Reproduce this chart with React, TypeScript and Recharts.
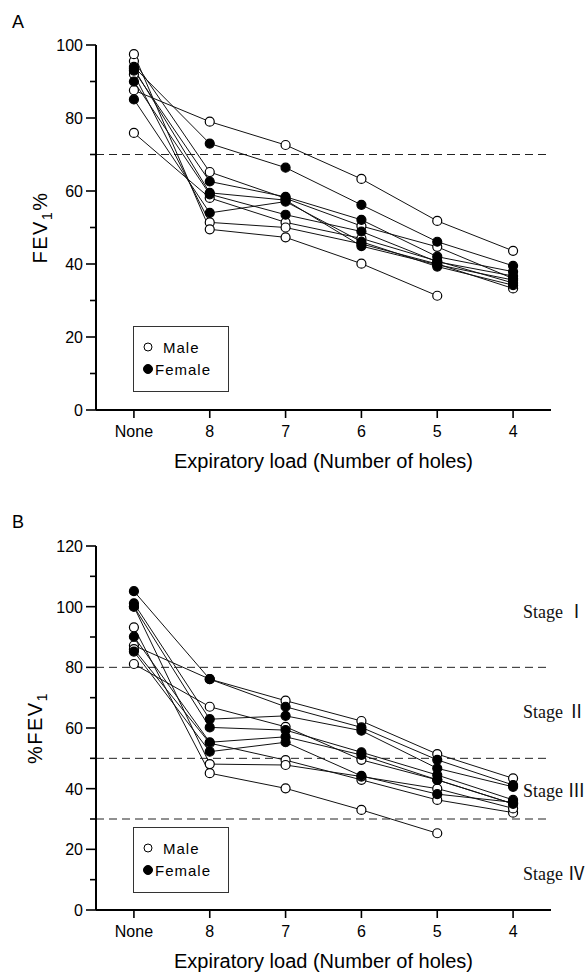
import React from 'react';
import { LineChart, Line, XAxis, YAxis, ReferenceLine, Legend } from 'recharts';

const CATEGORIES = ['None', '8', '7', '6', '5', '4'];

// Panel A, FEV1% per subject (None -> 4 holes)
const A_MALE = [
  [87.6, 79, 72.6, 63.3, 51.8, 43.6],
  [95.6, 65.2, 58, 50.4, 44.7, 36],
  [75.9, 58.1, 51.4, 47, 40.8, 34.8],
  [92, 51.4, 50, 45.5, 40, 33.3],
  [97.5, 49.5, 47.3, 40.1, 31.3, null],
];
const A_FEMALE = [
  [94, 73, 66.4, 56.2, 46.1, 39.5],
  [93, 62.6, 58.4, 52.1, 42, 37.9],
  [90, 59.1, 53.5, 48.9, 40.6, 36.7],
  [85.1, 54, 57.1, 46.1, 39.3, 34.2],
  [93.5, 59.5, 57.5, 44.9, 39.8, 35.6],
];
const A_CUTOFFS = [70];

// Panel B, %FEV1 per subject
const B_MALE = [
  [87.2, 76.1, 69, 62.3, 51.4, 43.4],
  [81.1, 67, 60.4, 49.5, 42.9, 35],
  [86, 55, 49.4, 42.9, 36.3, 32.1],
  [100, 48.1, 47.8, 44, 40, 33.5],
  [93.2, 45.1, 40.1, 33, 25.3, null],
];
const B_FEMALE = [
  [105.1, 76.1, 67, 60.2, 49.5, 41.2],
  [101.1, 62.9, 64, 59.1, 46.7, 40.6],
  [100, 60.2, 59.3, 52, 44.5, 36.3],
  [90.1, 55.3, 57.1, 51.1, 42.9, 35],
  [85.2, 52.2, 55.3, 44.2, 38.2, 35.5],
];
const B_CUTOFFS = [80, 50, 30];
const STAGE_NAMES = ['Stage Ⅰ', 'Stage Ⅱ', 'Stage Ⅲ', 'Stage Ⅳ'];
const STAGE_LEVELS = [98, 65, 39, 11.5];

const SANS = '"Liberation Sans", Arial, sans-serif';

function buildRows(male: (number | null)[][], female: (number | null)[][]) {
  return CATEGORIES.map((label, i) => {
    const row: Record<string, number | string | null> = { x: i, label };
    male.forEach((s, k) => (row[`m${k}`] = s[i]));
    female.forEach((s, k) => (row[`f${k}`] = s[i]));
    return row;
  });
}

function YTick(props: any) {
  const { x, y, payload } = props;
  const v = payload.value as number;
  const major = v % 20 === 0;
  return (
    <g>
      <line x1={x - (major ? 10 : 6)} x2={x} y1={y} y2={y} stroke="#000" strokeWidth={1.6} />
      {major && (
        <text x={x - 13} y={y} dy={6} textAnchor="end" fontSize={16} fill="#000" fontFamily={SANS}>
          {v}
        </text>
      )}
    </g>
  );
}

function YTitle(props: any) {
  const { viewBox, pre, sub, post, cxOff } = props;
  const cx = viewBox.x + cxOff;
  const cy = viewBox.y + viewBox.height / 2;
  return (
    <text
      x={cx}
      y={cy}
      transform={`rotate(-90, ${cx}, ${cy})`}
      textAnchor="middle"
      fontSize={20}
      fill="#000"
      fontFamily={SANS}
      letterSpacing={1.5}
      dy={7}
    >
      {pre}
      <tspan fontSize={14} dy={5}>{sub}</tspan>
      <tspan dy={-5}>{post}</tspan>
    </text>
  );
}

function StageLabel(props: any) {
  const { viewBox, text } = props;
  return (
    <text
      x={viewBox.x + viewBox.width - 28}
      y={viewBox.y}
      dy={5}
      fontSize={18}
      fill="#111"
      fontFamily='"Liberation Serif", "Noto Sans CJK JP", serif'
    >
      {text}
    </text>
  );
}

function SexLegend() {
  const dot = (filled: boolean) => (
    <svg width={12} height={12} style={{ display: 'block' }}>
      <circle cx={6} cy={6} r={filled ? 4.5 : 4} fill={filled ? '#000' : '#fff'} stroke="#000" strokeWidth={1} />
    </svg>
  );
  return (
    <div
      style={{
        width: 96,
        height: 66,
        boxSizing: 'border-box',
        border: '1px solid #333',
        background: '#fff',
        fontFamily: SANS,
        fontSize: 15,
        letterSpacing: 1,
        color: '#000',
        padding: '9px 0 0 8px',
      }}
    >
      <div style={{ display: 'flex', alignItems: 'center', height: 22 }}>
        {dot(false)}
        <span style={{ marginLeft: 9 }}>Male</span>
      </div>
      <div style={{ display: 'flex', alignItems: 'center', height: 22 }}>
        {dot(true)}
        <span style={{ marginLeft: 1 }}>Female</span>
      </div>
    </div>
  );
}

function Panel(props: {
  male: (number | null)[][];
  female: (number | null)[][];
  yMax: number;
  cutoffs: number[];
  top: number;
  bottom: number;
  title: { pre: string; sub: string; post: string; cxOff: number };
  legendTop: number;
  stages?: boolean;
}) {
  const { male, female, yMax, cutoffs, top, bottom, title, legendTop, stages } = props;
  const rows = buildRows(male, female);
  const yTicks: number[] = [];
  for (let v = 0; v <= yMax; v += 10) yTicks.push(v);

  return (
    <LineChart width={588} height={488} data={rows} margin={{ top, right: 37, left: 0, bottom }}>
      <XAxis
        type="number"
        dataKey="x"
        domain={[-0.5, 5.5]}
        ticks={[0, 1, 2, 3, 4, 5]}
        tickFormatter={(v: number) => CATEGORIES[v]}
        height={30}
        tickSize={8}
        tickMargin={8}
        axisLine={{ stroke: '#000', strokeWidth: 2 }}
        tickLine={{ stroke: '#000', strokeWidth: 1.6 }}
        tick={{ fill: '#000', fontSize: 16, fontFamily: SANS }}
        label={{
          value: 'Expiratory load (Number of holes)',
          position: 'bottom',
          offset: 14,
          fontSize: 20,
          fill: '#000',
          fontFamily: SANS,
        }}
      />
      <YAxis
        type="number"
        domain={[0, yMax]}
        ticks={yTicks}
        interval={0}
        width={96}
        tickSize={0}
        tickMargin={0}
        tickLine={false}
        axisLine={{ stroke: '#000', strokeWidth: 2 }}
        tick={<YTick />}
        label={<YTitle {...title} />}
      />
      {cutoffs.map(c => (
        <ReferenceLine key={c} y={c} stroke="#222" strokeWidth={1} strokeDasharray="8 5" />
      ))}
      {stages &&
        STAGE_NAMES.map((s, i) => (
          <ReferenceLine key={s} y={STAGE_LEVELS[i]} stroke="none" label={<StageLabel text={s} />} />
        ))}
      <Legend
        layout="vertical"
        align="center"
        verticalAlign="middle"
        content={<SexLegend />}
        wrapperStyle={{ left: 133, top: legendTop, width: 96, height: 66 }}
      />
      {male.map((_, k) => (
        <Line
          key={`m${k}`}
          dataKey={`m${k}`}
          stroke="#111"
          strokeWidth={1}
          dot={{ r: 4.5, fill: '#fff', stroke: '#000', strokeWidth: 1.2 }}
          activeDot={false}
          isAnimationActive={false}
          legendType="none"
        />
      ))}
      {female.map((_, k) => (
        <Line
          key={`f${k}`}
          dataKey={`f${k}`}
          stroke="#111"
          strokeWidth={1}
          dot={{ r: 4.5, fill: '#000', stroke: '#000', strokeWidth: 1.2 }}
          activeDot={false}
          isAnimationActive={false}
          legendType="none"
        />
      ))}
    </LineChart>
  );
}

export default function App() {
  return (
    <div style={{ position: 'absolute', left: 0, top: 0, width: 588, height: 976, background: '#fff' }}>
      <div style={{ position: 'absolute', left: 12, top: 12, fontFamily: SANS, fontSize: 18 }}>A</div>
      <div style={{ position: 'absolute', left: 12, top: 512, fontFamily: SANS, fontSize: 18 }}>B</div>
      <div style={{ position: 'absolute', left: 0, top: 0 }}>
        <Panel
          male={A_MALE}
          female={A_FEMALE}
          yMax={100}
          cutoffs={A_CUTOFFS}
          top={45}
          bottom={48}
          title={{ pre: 'FEV', sub: '1', post: '%', cxOff: 40 }}
          legendTop={326}
        />
      </div>
      <div style={{ position: 'absolute', left: 0, top: 488 }}>
        <Panel
          male={B_MALE}
          female={B_FEMALE}
          yMax={120}
          cutoffs={B_CUTOFFS}
          top={58}
          bottom={36}
          title={{ pre: '%FEV', sub: '1', post: '', cxOff: 35 }}
          legendTop={339}
          stages
        />
      </div>
    </div>
  );
}
